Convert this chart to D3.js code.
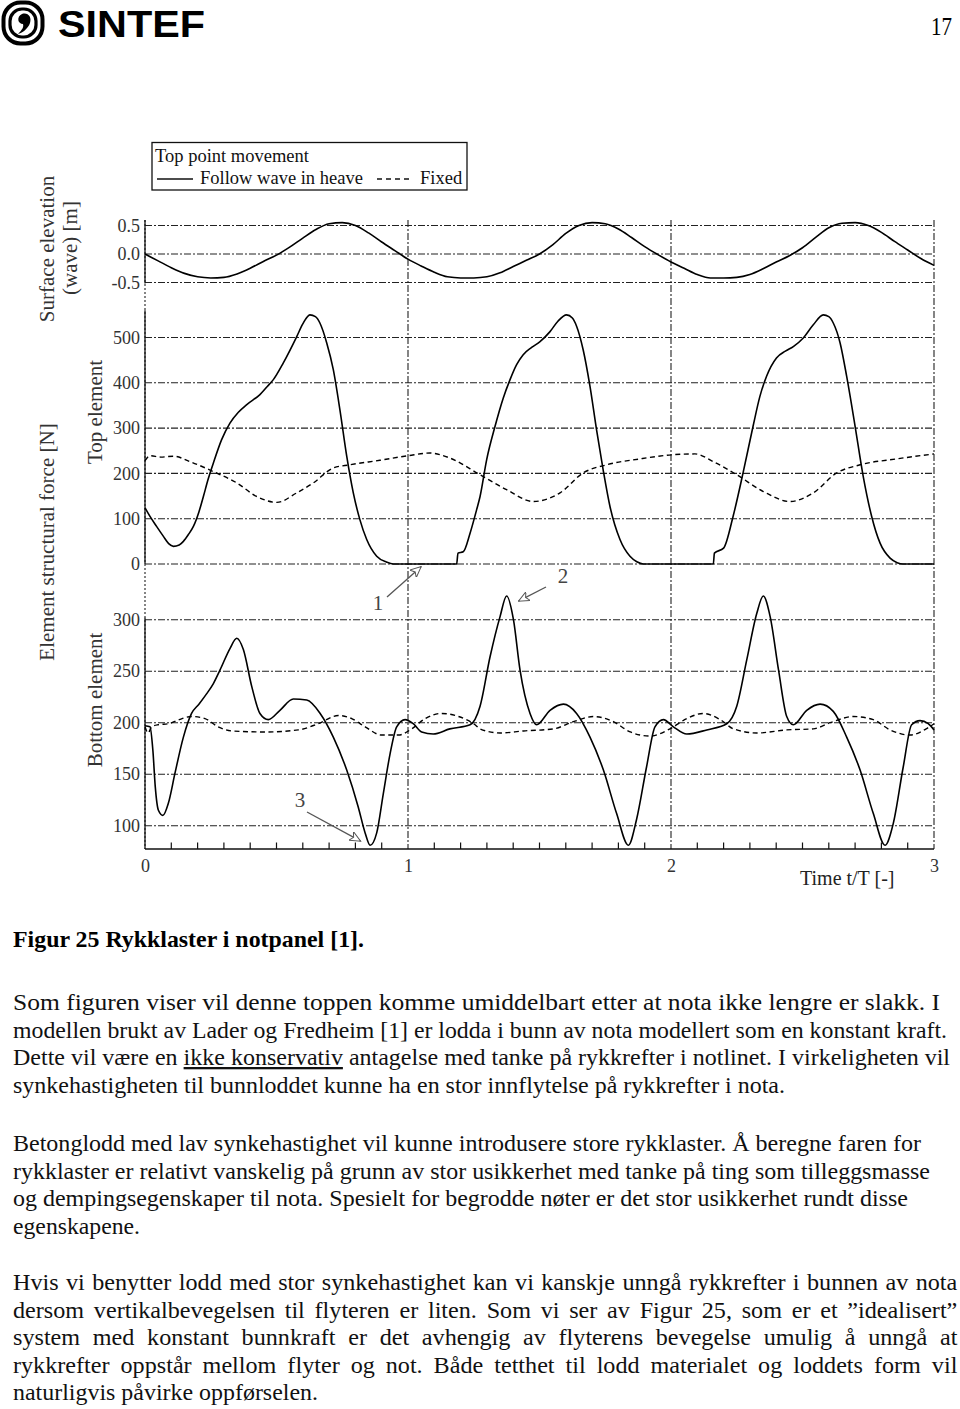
<!DOCTYPE html>
<html><head><meta charset="utf-8">
<script src="https://cdn.jsdelivr.net/npm/d3@7"></script>
<style>
body{margin:0;background:#fff}
svg{display:block}
text{font-family:"Liberation Serif","Times New Roman",serif}
text.sans{font-family:"Liberation Sans",Arial,sans-serif}
</style>
</head><body>
<svg id="page" width="960" height="1409"></svg>
<script>
// ---------------- DATA ----------------
const xTicks = [0, 1, 2, 3];
const xTickLabels = ["0", "1", "2", "3"];
const xMinorTicks = [0.1,0.2,0.3,0.4,0.5,0.6,0.7,0.8,0.9,1.1,1.2,1.3,1.4,1.5,1.6,1.7,1.8,1.9,2.1,2.2,2.3,2.4,2.5,2.6,2.7,2.8,2.9];
const waveTicks = [0.5, 0.0, -0.5];
const waveTickLabels = ["0.5", "0.0", "-0.5"];
const topTicks = [0, 100, 200, 300, 400, 500];
const bottomTicks = [100, 150, 200, 250, 300];

// Surface elevation (wave) [m]
const waveT = [0,0.05,0.1,0.15,0.2,0.25,0.3,0.35,0.4,0.45,0.5,0.55,0.6,0.65,0.7,0.75,0.8,0.85,0.9,0.95,
  1.0,1.05,1.1,1.15,1.2,1.25,1.3,1.35,1.4,1.45,1.5,1.55,1.6,1.65,1.7,1.75,1.8,1.85,1.9,1.95,
  2.0,2.05,2.1,2.15,2.2,2.25,2.3,2.35,2.4,2.45,2.5,2.55,2.6,2.65,2.7,2.75,2.8,2.85,2.9,2.95,3.0];
const waveV = [0,-0.12,-0.24,-0.34,-0.40,-0.42,-0.41,-0.35,-0.25,-0.13,-0.02,0.12,0.28,0.43,0.53,0.55,0.50,0.37,0.21,0.06,
  -0.09,-0.21,-0.32,-0.40,-0.42,-0.42,-0.40,-0.33,-0.22,-0.11,0.00,0.16,0.36,0.50,0.55,0.53,0.44,0.29,0.13,-0.01,
  -0.14,-0.25,-0.36,-0.42,-0.42,-0.41,-0.36,-0.26,-0.14,-0.03,0.11,0.29,0.46,0.54,0.55,0.50,0.38,0.22,0.07,-0.08,-0.20];

// Top element, follow wave in heave (solid)
const topSolidT = [0,0.019,0.044,0.07,0.09,0.108,0.13,0.146,0.165,0.184,0.205,0.222,0.24,0.26,0.291,0.323,0.355,0.387,0.437,0.465,0.488,0.526,0.577,0.6,0.627,0.648,0.665,0.691,0.716,0.741,0.767,0.792,0.817,0.843,0.881,0.919,0.944,
  1.185,1.19,1.21,1.236,1.261,1.274,1.299,1.331,1.362,1.388,1.413,1.438,1.47,1.502,1.54,1.57,1.603,1.625,1.641,1.666,1.692,1.717,1.742,1.768,1.806,1.844,1.87,1.895,
  2.161,2.165,2.2,2.236,2.274,2.312,2.338,2.363,2.401,2.435,2.465,2.503,2.541,2.579,2.6,2.617,2.643,2.668,2.7,2.731,2.763,2.795,2.833,2.86,2.882,3.0];
const topSolidV = [124,105,83,61,45,39,42,50,65,83,115,149,187,223,274,311,335,352,374,392,407,444,502,530,550,546,532,488,429,341,238,157,98,54,17,4,0,
  0,24,27,68,120,149,230,304,366,407,440,462,478,491,513,536,550,543,525,473,392,296,208,127,54,17,5,0,
  0,24,35,105,201,304,370,414,455,470,480,499,528,550,546,532,488,414,304,193,105,46,13,3,0,0];

// Top element, fixed (dashed)
const topDashT = [0,0.019,0.06,0.108,0.171,0.26,0.349,0.425,0.501,0.577,0.64,0.716,0.779,0.893,1.0,1.083,1.159,1.274,1.375,1.477,1.578,1.666,1.755,1.882,2.002,2.091,2.161,2.25,2.351,2.452,2.541,2.63,2.719,2.858,3.0];
const topDashV = [228,239,236,238,226,204,179,149,136,157,179,212,219,229,239,245,234,197,164,138,157,201,219,232,241,243,226,197,160,138,157,201,219,232,243];

// Bottom element, follow wave in heave (solid)
const botSolidT = [0,0.019,0.03,0.039,0.051,0.068,0.089,0.114,0.146,0.177,0.205,0.234,0.26,0.285,0.323,0.349,0.374,0.406,0.437,0.469,0.513,0.564,0.615,0.666,0.716,0.767,0.811,0.837,0.856,0.881,0.906,0.932,0.957,0.989,
  1.02,1.052,1.096,1.159,1.236,1.274,1.312,1.35,1.375,1.401,1.426,1.464,1.489,1.54,1.591,1.641,1.692,1.743,1.793,1.838,1.869,1.907,1.939,1.971,
  2.009,2.06,2.136,2.212,2.25,2.288,2.326,2.351,2.377,2.409,2.44,2.465,2.516,2.567,2.617,2.668,2.719,2.769,2.814,2.845,2.883,2.915,2.947,2.978,3.0];
const botSolidV = [197,196,173,138,115,110,122,151,186,209,218,228,238,251,272,282,271,235,209,203,212,223,222,209,186,154,118,93,81,93,131,170,196,203,
  199,191,189,194,198,216,264,303,323,300,251,209,198,212,218,209,186,154,112,81,106,157,196,203,
  196,189,193,199,216,261,306,323,303,251,206,198,212,218,211,186,154,112,81,102,157,198,202,199,193];

// Bottom element, fixed (dashed)
const botDashT = [0,0.012,0.025,0.05,0.09,0.13,0.177,0.228,0.278,0.329,0.456,0.583,0.659,0.735,0.786,0.837,0.9,0.964,1.014,1.065,1.128,1.192,1.255,1.274,1.35,1.439,1.553,1.629,1.705,1.781,1.845,1.92,1.996,2.06,2.123,2.187,2.238,2.326,2.44,2.541,2.605,2.693,2.769,2.833,2.909,2.97,3.0];
const botDashV = [196,190,196,198,199,203,206,204,196,192,191,193,199,207,204,196,188,188,194,204,209,206,198,194,190,192,194,201,206,201,191,187,194,204,209,203,194,190,193,194,200,206,203,193,188,194,199];

// Annotations
const annotationLabels = ["1", "2", "3"];

// Body text
const captionText = "Figur 25 Rykklaster i notpanel [1].";
const bodyLines = [
  ["Som figuren viser vil denne toppen komme umiddelbart etter at nota ikke lengre er slakk. I"],
  ["modellen brukt av Lader og Fredheim [1] er lodda i bunn av nota modellert som en konstant kraft."],
  ["Dette vil være en ", "ikke konservativ", " antagelse med tanke på rykkrefter i notlinet. I virkeligheten vil"],
  ["synkehastigheten til bunnloddet kunne ha en stor innflytelse på rykkrefter i nota."],
  ["Betonglodd med lav synkehastighet vil kunne introdusere store rykklaster. Å beregne faren for"],
  ["rykklaster er relativt vanskelig på grunn av stor usikkerhet med tanke på ting som tilleggsmasse"],
  ["og dempingsegenskaper til nota. Spesielt for begrodde nøter er det stor usikkerhet rundt disse"],
  ["egenskapene."],
  ["Hvis vi benytter lodd med stor synkehastighet kan vi kanskje unngå rykkrefter i bunnen av nota"],
  ["dersom vertikalbevegelsen til flyteren er liten. Som vi ser av Figur 25, som er et ”idealisert”"],
  ["system med konstant bunnkraft er det avhengig av flyterens bevegelse umulig å unngå at"],
  ["rykkrefter oppstår mellom flyter og not. Både tetthet til lodd materialet og loddets form vil"],
  ["naturligvis påvirke oppførselen."]
];
const bodyBaselines = [1010,1037.5,1065,1092.5,1151,1178.5,1206,1233.5,1290,1317.5,1345,1372.5,1400];
const bodyWidths = [927,934,937,772,908,917,895,127,945,945,945,945,305];
const justified = [false,false,false,false,false,false,false,false,true,true,true,true,false];

// ---------------- DRAWING ----------------
const svg = d3.select("#page");

// Header
const logo = svg.append("g").attr("transform","translate(23,23)");
logo.append("rect").attr("x",-19.5).attr("y",-20.5).attr("width",39).attr("height",41).attr("rx",17).attr("fill","none").attr("stroke","#000").attr("stroke-width",4);
logo.append("rect").attr("x",-13).attr("y",-14).attr("width",26).attr("height",28).attr("rx",12).attr("fill","none").attr("stroke","#000").attr("stroke-width",3.2);
logo.append("path").attr("d","M-1,-9 C5,-11 9,-6 7,0 C5,6 -1,10 -5,11 C-1,7 1,4 0,1 C-5,1 -7,-6 -1,-9 Z").attr("fill","#000");
svg.append("text").attr("class","sans").attr("x",58).attr("y",37)
  .attr("font-weight","bold").attr("font-size",36).attr("textLength",147).attr("lengthAdjust","spacingAndGlyphs").text("SINTEF");
svg.append("text").attr("x",952).attr("y",35).attr("text-anchor","end").attr("font-size",26)
  .attr("textLength",21).attr("lengthAdjust","spacingAndGlyphs").text("17");

// Scales
const x = d3.scaleLinear().domain([0,3]).range([145,934]);
const yWave = d3.scaleLinear().domain([-0.5,0.5]).range([282.5,225.5]);
const yTop = d3.scaleLinear().domain([0,500]).range([564,337.5]);
const yBot = d3.scaleLinear().domain([100,300]).range([825.7,619.7]);
const axisY = 849, plotTop = 220;
const gridDash = "7,2,2,2";
const gridColor = "#222";

const chart = svg.append("g");

// Horizontal grid lines
function hGrid(scale, vals){
  chart.append("g").selectAll("line").data(vals).join("line")
    .attr("x1", x(0)).attr("x2", x(3))
    .attr("y1", d=>scale(d)).attr("y2", d=>scale(d))
    .attr("stroke", gridColor).attr("stroke-width",1.1).attr("stroke-dasharray", gridDash);
}
hGrid(yWave, waveTicks);
hGrid(yTop, topTicks);
hGrid(yBot, bottomTicks);

// Vertical grid lines at t = 1, 2, 3
chart.append("g").selectAll("line").data([1,2,3]).join("line")
  .attr("x1", d=>x(d)).attr("x2", d=>x(d)).attr("y1", plotTop).attr("y2", axisY)
  .attr("stroke", gridColor).attr("stroke-width",1.1).attr("stroke-dasharray", gridDash);

// Left axis line
chart.append("line").attr("x1",x(0)).attr("x2",x(0)).attr("y1",plotTop).attr("y2",axisY)
  .attr("stroke",gridColor).attr("stroke-width",1.1).attr("stroke-dasharray","2,2");
[[plotTop, yWave(-0.5)+1],[yTop(560), yTop(0)],[yBot(300)-2, axisY]].forEach(s=>{
  chart.append("line").attr("x1",x(0)).attr("x2",x(0)).attr("y1",s[0]).attr("y2",s[1])
    .attr("stroke","#111").attr("stroke-width",1.3);
});

// Bottom x axis
chart.append("line").attr("x1",x(0)).attr("x2",x(3)).attr("y1",axisY).attr("y2",axisY).attr("stroke","#111").attr("stroke-width",1.6);
chart.append("g").selectAll("line").data(xMinorTicks).join("line")
  .attr("x1",d=>x(d)).attr("x2",d=>x(d)).attr("y1",axisY).attr("y2",axisY-6.5)
  .attr("stroke","#111").attr("stroke-width",1.2);

const xAxis = d3.axisBottom(x).tickValues(xTicks).tickSize(0).tickPadding(10)
  .tickFormat((d,i)=>xTickLabels[i]);
const gx = chart.append("g").attr("transform",`translate(0,${axisY})`).call(xAxis);
gx.select(".domain").remove();
gx.selectAll("text").style("font-family","'Liberation Serif',serif").attr("font-size",18).attr("fill","#333");
svg.append("text").attr("x",800).attr("y",885).attr("font-size",20).attr("fill","#222").text("Time t/T [-]");

// Y axes labels
function yAxis(scale, vals, fmt){
  const a = d3.axisLeft(scale).tickValues(vals).tickSize(0).tickPadding(5);
  if (fmt) a.tickFormat(fmt);
  const g = chart.append("g").attr("transform",`translate(${x(0)},0)`).call(a);
  g.select(".domain").remove();
  g.selectAll("text").style("font-family","'Liberation Serif',serif").attr("font-size",18).attr("fill","#333");
}
yAxis(yWave, waveTicks, (d,i)=>waveTickLabels[i]);
yAxis(yTop, topTicks);
yAxis(yBot, bottomTicks);

// Axis titles
function vText(cx, cy, str, size){
  svg.append("text").attr("transform",`translate(${cx},${cy}) rotate(-90)`)
    .attr("text-anchor","middle").attr("font-size",size).attr("fill","#333").text(str);
}
vText(54, 249, "Surface elevation", 21);
vText(77, 248, "(wave) [m]", 21);
vText(54, 542, "Element structural force [N]", 21);
vText(102, 412, "Top element", 21);
vText(102, 700, "Bottom element", 21);

// Curves
function drawSeries(ts, vs, scale, dashed){
  const line = d3.line().x(d=>x(d[0])).y(d=>scale(d[1])).curve(d3.curveMonotoneX);
  chart.append("path").datum(d3.zip(ts, vs)).attr("d", line)
    .attr("fill","none").attr("stroke","#000")
    .attr("stroke-width", dashed ? 1.4 : 1.6)
    .attr("stroke-dasharray", dashed ? "5,3.5" : null)
    .attr("stroke-linejoin","round");
}
drawSeries(waveT, waveV, yWave, false);
drawSeries(topDashT, topDashV, yTop, true);
drawSeries(topSolidT, topSolidV, yTop, false);
drawSeries(botDashT, botDashV, yBot, true);
drawSeries(botSolidT, botSolidV, yBot, false);

// Legend
const lg = svg.append("g");
lg.append("rect").attr("x",152).attr("y",142.5).attr("width",315).attr("height",47.5)
  .attr("fill","#fff").attr("stroke","#111").attr("stroke-width",1.3);
lg.append("text").attr("x",155).attr("y",162).attr("font-size",18.5).attr("fill","#111").text("Top point movement");
lg.append("line").attr("x1",157).attr("x2",193).attr("y1",179).attr("y2",179).attr("stroke","#111").attr("stroke-width",1.5);
lg.append("text").attr("x",200).attr("y",184).attr("font-size",18.5).attr("fill","#111").text("Follow wave in heave");
lg.append("line").attr("x1",377).attr("x2",411).attr("y1",179).attr("y2",179).attr("stroke","#111").attr("stroke-width",1.5).attr("stroke-dasharray","5,4");
lg.append("text").attr("x",420).attr("y",184).attr("font-size",18.5).attr("fill","#111").text("Fixed");

// Annotation arrows
const defs = svg.append("defs");
defs.append("marker").attr("id","arr").attr("viewBox","0 0 12 10").attr("refX",11).attr("refY",5)
  .attr("markerWidth",12).attr("markerHeight",10).attr("markerUnits","userSpaceOnUse").attr("orient","auto")
  .append("path").attr("d","M0,0 L11,5 L0,10 L3,5 Z").attr("fill","#fff").attr("stroke","#555").attr("stroke-width",1);
const arrows = [
  {lab:annotationLabels[0], tx:378, ty:610, x1:387, y1:597, t:1.05, v:3, s:yTop},
  {lab:annotationLabels[1], tx:563, ty:583, x1:546, y1:587, t:1.42, v:318, s:yBot},
  {lab:annotationLabels[2], tx:300, ty:807, x1:307, y1:812, t:0.82, v:85, s:yBot}
];
arrows.forEach(a=>{
  svg.append("line").attr("x1",a.x1).attr("y1",a.y1).attr("x2",x(a.t)).attr("y2",a.s(a.v)+ (a.lab==="1"?4:0))
    .attr("stroke","#555").attr("stroke-width",1.3).attr("marker-end","url(#arr)");
  svg.append("text").attr("x",a.tx).attr("y",a.ty).attr("text-anchor","middle").attr("font-size",21).attr("fill","#444").text(a.lab);
});

// Body text
svg.append("text").attr("x",13).attr("y",947).attr("font-size",23).attr("font-weight","bold")
  .attr("textLength",351).attr("lengthAdjust","spacingAndGlyphs").text(captionText);

const textNodes = bodyLines.map((parts,i)=>{
  const t = svg.append("text").attr("font-size",23).attr("fill","#111")
    .attr("transform",`translate(13,${bodyBaselines[i]})`);
  parts.forEach((p,j)=>{
    const ts = t.append("tspan").text(p);
    if (parts.length===3 && j===1) ts.attr("text-decoration","underline");
  });
  return t;
});
// average horizontal stretch of the ragged lines
const ratios = [];
textNodes.forEach((t,i)=>{ if(!justified[i] && bodyWidths[i] > 500) ratios.push(bodyWidths[i]/t.node().getComputedTextLength()); });
const sx = d3.mean(ratios);
textNodes.forEach((t,i)=>{
  if (justified[i]) {
    const natural = t.node().getComputedTextLength();
    const gaps = bodyLines[i].join("").split(" ").length - 1;
    const extra = (bodyWidths[i]/sx - natural) / gaps;
    t.attr("transform",`translate(13,${bodyBaselines[i]}) scale(${sx},1)`).attr("word-spacing", extra);
  } else {
    t.attr("textLength", bodyWidths[i]).attr("lengthAdjust","spacingAndGlyphs");
  }
});
</script>
</body></html>
